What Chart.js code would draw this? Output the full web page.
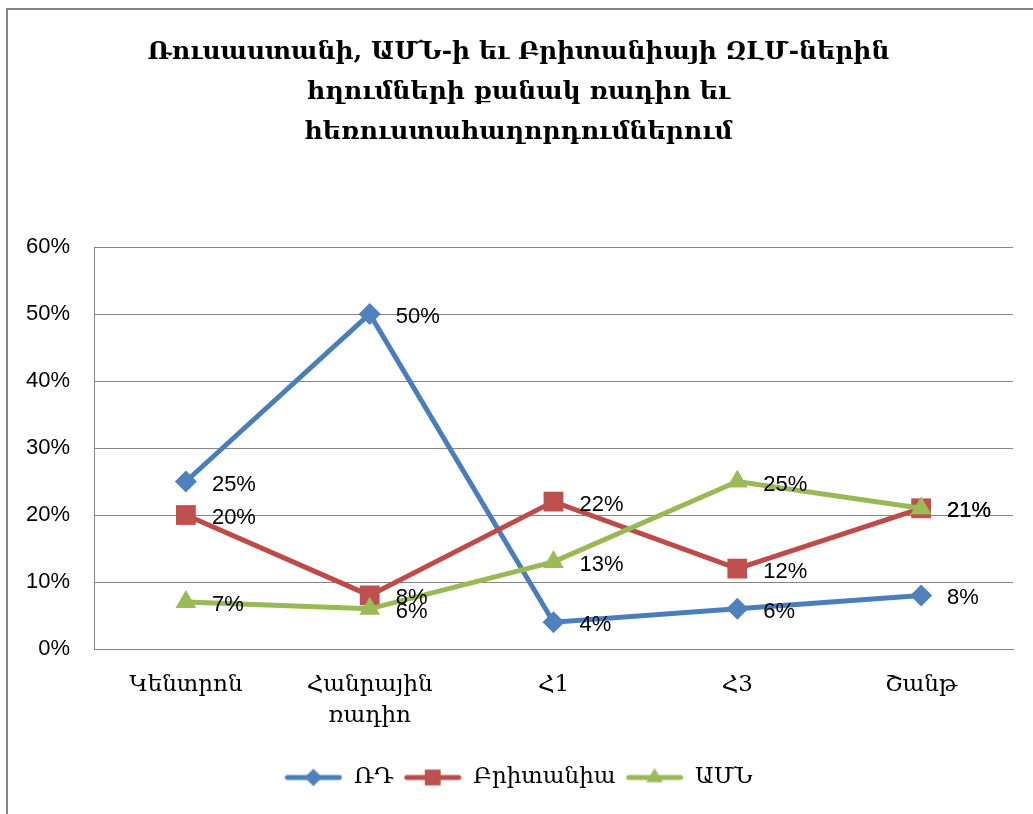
<!DOCTYPE html>
<html>
<head>
<meta charset="utf-8">
<script src="https://cdn.jsdelivr.net/npm/chart.js@4.4.0/dist/chart.umd.min.js"></script>
<style>
  html, body { margin: 0; padding: 0; background: #fff; }
</style>
</head>
<body>
<canvas id="chart" width="1033" height="814"></canvas>
<script>
// Chart data
const titleLines = [
  'Ռուսաստանի, ԱՄՆ-ի եւ Բրիտանիայի ԶԼՄ-ներին',
  'հղումների քանակ ռադիո եւ',
  'հեռուստահաղորդումներում'
];
const categories = ['Կենտրոն', ['Հանրային', 'ռադիո'], 'Հ1', 'Հ3', 'Շանթ'];
const seriesNames = ['ՌԴ', 'Բրիտանիա', 'ԱՄՆ'];
const valuesRD = [25, 50, 4, 6, 8];
const valuesUK = [20, 8, 22, 12, 21];
const valuesUS = [7, 6, 13, 25, 21];
const yMax = 60;
const yStep = 10;

const lineColors = ['#4A7EBB', '#BE4B48', '#98B954'];
const markerColors = ['#4F81BD', '#C0504D', '#9BBB59'];
const markerStyles = ['rectRot', 'rect', 'triangle'];
const markerRadius = [11, 14, 12];

const ARM_FONT = '"DejaVu Serif", serif';
const NUM_FONT = '"Liberation Sans", Arial, sans-serif';
const GRID = '#868686';

// legend icon: a short line with the marker in the middle
function legendIcon(i) {
  const c = document.createElement('canvas');
  c.width = 58; c.height = 24;
  const g = c.getContext('2d');
  g.strokeStyle = lineColors[i];
  g.lineWidth = 5;
  g.lineCap = 'round';
  g.beginPath(); g.moveTo(3, 12); g.lineTo(55, 12); g.stroke();
  g.fillStyle = markerColors[i];
  Chart.helpers.drawPoint(g, { pointStyle: markerStyles[i], radius: markerRadius[i] * 0.8, rotation: 0, borderWidth: 0 }, 29, 12);
  return c;
}

const frame = {
  id: 'frame',
  beforeDraw(chart) {
    const ctx = chart.ctx;
    ctx.save();
    ctx.fillStyle = GRID;
    ctx.fillRect(6, 8, 2, chart.height);
    ctx.fillRect(6, 8, chart.width, 2);
    ctx.restore();
  }
};

const pointLabels = {
  id: 'pointLabels',
  afterDatasetsDraw(chart) {
    const ctx = chart.ctx;
    ctx.save();
    ctx.font = '22px ' + NUM_FONT;
    ctx.fillStyle = '#000';
    ctx.textAlign = 'left';
    ctx.textBaseline = 'middle';
    chart.data.datasets.forEach((ds, i) => {
      chart.getDatasetMeta(i).data.forEach((pt, j) => {
        ctx.fillText(ds.data[j] + '%', pt.x + 26, pt.y + 3);
      });
    });
    ctx.restore();
  }
};

const allValues = [valuesRD, valuesUK, valuesUS];
const datasets = allValues.map((vals, i) => ({
  label: seriesNames[i],
  data: vals,
  borderColor: lineColors[i],
  backgroundColor: markerColors[i],
  borderWidth: 5,
  pointStyle: markerStyles[i],
  pointRadius: markerRadius[i],
  pointBorderWidth: 0,
  pointBackgroundColor: markerColors[i],
  tension: 0,
  order: 3 - i // later series drawn on top, like Excel
}));

new Chart(document.getElementById('chart'), {
  type: 'line',
  data: { labels: categories, datasets },
  options: {
    responsive: false,
    animation: false,
    devicePixelRatio: 1,
    layout: { padding: { left: 24, right: 20, top: 0, bottom: 15 } },
    plugins: {
      title: {
        display: true,
        text: titleLines,
        color: '#000',
        font: { family: ARM_FONT, size: 25, weight: 'bold', lineHeight: 40 / 25 },
        padding: { top: 32, bottom: 95 }
      },
      legend: {
        position: 'bottom',
        labels: {
          usePointStyle: true,
          pointStyleWidth: 58,
          boxHeight: 22,
          color: '#000',
          font: { family: ARM_FONT, size: 23 },
          padding: 10,
          sort: (a, b) => a.datasetIndex - b.datasetIndex,
          generateLabels(chart) {
            const items = Chart.defaults.plugins.legend.labels.generateLabels(chart);
            items.forEach(it => { it.pointStyle = legendIcon(it.datasetIndex); });
            return items;
          }
        }
      },
      tooltip: { enabled: false }
    },
    scales: {
      x: {
        offset: true,
        grid: { display: false, drawTicks: false },
        border: { display: true, color: GRID, width: 1 },
        ticks: {
          color: '#000',
          font: { family: ARM_FONT, size: 23, lineHeight: 31 / 23 },
          padding: 21,
          maxRotation: 0,
          autoSkip: false
        },
        afterFit: s => { s.height = 107; }
      },
      y: {
        min: 0,
        max: yMax,
        grid: { color: GRID, drawTicks: false },
        border: { display: true, color: GRID, width: 1 },
        ticks: {
          stepSize: yStep,
          color: '#000',
          font: { family: NUM_FONT, size: 22 },
          padding: 24,
          callback: v => v + '%'
        },
        afterFit: s => { s.width = 70; }
      }
    }
  },
  plugins: [frame, pointLabels]
});
</script>
</body>
</html>
